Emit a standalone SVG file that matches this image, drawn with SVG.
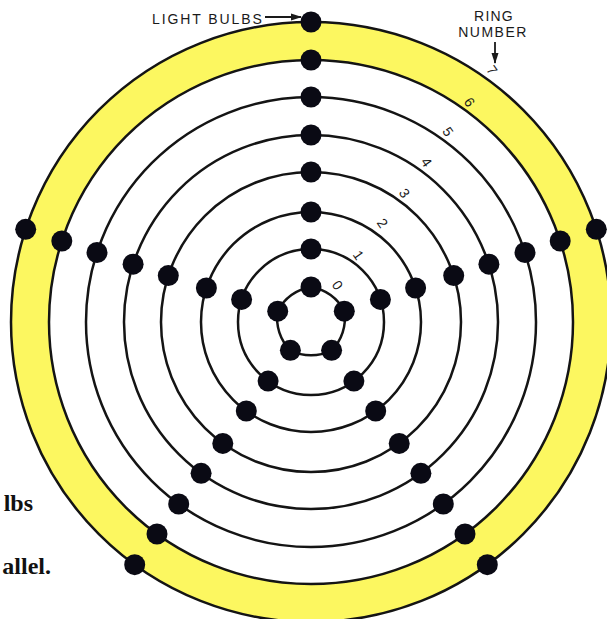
<svg xmlns="http://www.w3.org/2000/svg" width="607" height="619" viewBox="0 0 607 619">
  <style>
    .ring{fill:none;stroke:#141414;stroke-width:2.5}
    .bulb{fill:#0a0a14}
    .num{font-family:"Liberation Sans",Arial,sans-serif;font-size:14px;fill:#1a1a1a;text-anchor:middle;dominant-baseline:central}
    .cap{font-family:"Liberation Sans",Arial,sans-serif;font-size:14px;fill:#1a1a1a}
    .body{font-family:"Liberation Serif","Times New Roman",serif;font-size:24px;font-weight:bold;fill:#111;text-anchor:end}
    .arr{stroke:#1a1a1a;stroke-width:1.8;fill:none}
  </style>
  <defs>
    <marker id="ah" markerWidth="11" markerHeight="8" refX="10" refY="4" orient="auto" markerUnits="userSpaceOnUse">
      <path d="M0,0.5 L11,4 L0,7.5 Z" fill="#1a1a1a"/>
    </marker>
  </defs>
  <rect width="607" height="619" fill="#ffffff"/>

  <g id="band">
    <circle cx="311" cy="322" r="281" fill="none" stroke="#fcf760" stroke-width="38"/>
  </g>

  <g id="rings">
    <path class="ring" d="M311,287 A45,45 0 0 1 344.3,311.2 A45,45 0 0 1 331.6,350.3 A45,45 0 0 1 290.4,350.3 A45,45 0 0 1 277.7,311.2 A45,45 0 0 1 311,287 Z"/>
    <circle class="ring" cx="311" cy="322" r="73"/>
    <circle class="ring" cx="311" cy="322" r="110"/>
    <circle class="ring" cx="311" cy="322" r="150"/>
    <circle class="ring" cx="311" cy="322" r="187"/>
    <circle class="ring" cx="311" cy="322" r="225"/>
    <circle class="ring" cx="311" cy="322" r="262"/>
    <circle class="ring" cx="311" cy="322" r="300"/>
  </g>

  <g id="bulbs">
    <g id="ring0-bulbs">
      <circle class="bulb" cx="311" cy="287" r="10.5"/>
      <circle class="bulb" cx="344.3" cy="311.2" r="10.5"/>
      <circle class="bulb" cx="331.6" cy="350.3" r="10.5"/>
      <circle class="bulb" cx="290.4" cy="350.3" r="10.5"/>
      <circle class="bulb" cx="277.7" cy="311.2" r="10.5"/>
    </g>
    <g id="ring1-bulbs">
      <circle class="bulb" cx="311" cy="249" r="10.5"/>
      <circle class="bulb" cx="241.6" cy="299.4" r="10.5"/>
      <circle class="bulb" cx="380.4" cy="299.4" r="10.5"/>
      <circle class="bulb" cx="268.1" cy="381.1" r="10.5"/>
      <circle class="bulb" cx="353.9" cy="381.1" r="10.5"/>
    </g>
    <g id="ring2-bulbs">
      <circle class="bulb" cx="311" cy="212" r="10.5"/>
      <circle class="bulb" cx="206.4" cy="288" r="10.5"/>
      <circle class="bulb" cx="415.6" cy="288" r="10.5"/>
      <circle class="bulb" cx="246.3" cy="411" r="10.5"/>
      <circle class="bulb" cx="375.7" cy="411" r="10.5"/>
    </g>
    <g id="ring3-bulbs">
      <circle class="bulb" cx="311" cy="172" r="10.5"/>
      <circle class="bulb" cx="168.3" cy="275.6" r="10.5"/>
      <circle class="bulb" cx="453.7" cy="275.6" r="10.5"/>
      <circle class="bulb" cx="222.8" cy="443.4" r="10.5"/>
      <circle class="bulb" cx="399.2" cy="443.4" r="10.5"/>
    </g>
    <g id="ring4-bulbs">
      <circle class="bulb" cx="311" cy="135" r="10.5"/>
      <circle class="bulb" cx="133.1" cy="264.2" r="10.5"/>
      <circle class="bulb" cx="488.9" cy="264.2" r="10.5"/>
      <circle class="bulb" cx="201.1" cy="473.3" r="10.5"/>
      <circle class="bulb" cx="420.9" cy="473.3" r="10.5"/>
    </g>
    <g id="ring5-bulbs">
      <circle class="bulb" cx="311" cy="97" r="10.5"/>
      <circle class="bulb" cx="97" cy="252.5" r="10.5"/>
      <circle class="bulb" cx="525" cy="252.5" r="10.5"/>
      <circle class="bulb" cx="178.7" cy="504" r="10.5"/>
      <circle class="bulb" cx="443.3" cy="504" r="10.5"/>
    </g>
    <g id="ring6-bulbs">
      <circle class="bulb" cx="311" cy="60" r="10.5"/>
      <circle class="bulb" cx="61.8" cy="241" r="10.5"/>
      <circle class="bulb" cx="560.2" cy="241" r="10.5"/>
      <circle class="bulb" cx="157" cy="534" r="10.5"/>
      <circle class="bulb" cx="465" cy="534" r="10.5"/>
    </g>
    <g id="ring7-bulbs">
      <circle class="bulb" cx="311" cy="22" r="10.5"/>
      <circle class="bulb" cx="25.7" cy="229.3" r="10.5"/>
      <circle class="bulb" cx="596.3" cy="229.3" r="10.5"/>
      <circle class="bulb" cx="134.7" cy="564.7" r="10.5"/>
      <circle class="bulb" cx="487.3" cy="564.7" r="10.5"/>
    </g>
  </g>

  <g id="ring-numbers">
    <text class="num" transform="translate(337.5,285) rotate(55)">0</text>
    <text class="num" transform="translate(358.5,255) rotate(55)">1</text>
    <text class="num" transform="translate(382.5,223) rotate(55)">2</text>
    <text class="num" transform="translate(404.5,193) rotate(55)">3</text>
    <text class="num" transform="translate(426.5,162) rotate(55)">4</text>
    <text class="num" transform="translate(448,131.5) rotate(55)">5</text>
    <text class="num" transform="translate(469.5,102) rotate(55)">6</text>
    <text class="num" transform="translate(492,70) rotate(55)">7</text>
  </g>

  <g id="light-bulbs-label">
    <text class="cap" x="152" y="23.5" letter-spacing="1.9" font-size="14.5">LIGHT BULBS</text>
  </g>
  <g id="ring-number-label">
    <text class="cap" x="494" y="21" text-anchor="middle" letter-spacing="1.2" font-size="13.5">RING</text>
    <text class="cap" x="493" y="37" text-anchor="middle" letter-spacing="1.5" font-size="13.5">NUMBER</text>
  </g>

  <g id="connectors">
    <line class="arr" x1="265" y1="17" x2="301" y2="17" marker-end="url(#ah)"/>
    <line class="arr" x1="495" y1="42" x2="495" y2="63" marker-end="url(#ah)"/>
  </g>

  <g id="body-text">
    <text class="body" x="33" y="511">lbs</text>
    <text class="body" x="51" y="574">allel.</text>
  </g>
</svg>
